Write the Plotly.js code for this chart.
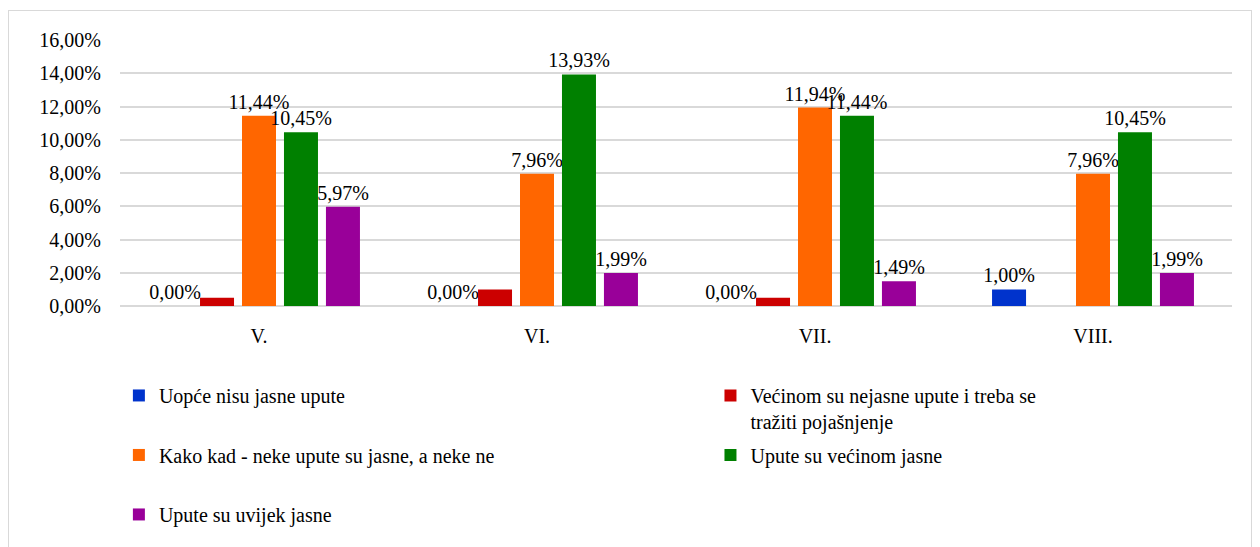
<!DOCTYPE html>
<html>
<head>
<meta charset="utf-8">
<script src="https://cdn.plot.ly/plotly-3.0.1.min.js"></script>
<style>
  body { margin: 0; background: #fff; overflow: hidden; }
  #chart { margin: 10px 0 0 8px; width: 1242px; height: 545px; border: 1.5px solid #d9d9d9; }
</style>
</head>
<body>
<div id="chart"></div>
<script>
// grades
const categories = ["V.", "VI.", "VII.", "VIII."];

const series_names = [
  "Uopće nisu jasne upute",
  "Većinom su nejasne upute i treba se<br>tražiti pojašnjenje",
  "Kako kad - neke upute su jasne, a neke ne",
  "Upute su većinom jasne",
  "Upute su uvijek jasne"
];

// percent values per series
const uopce_nisu = [0.00, 0.00, 0.00, 1.00];
const vecinom_nejasne = [0.50, 1.00, 0.50, 0.00];
const kako_kad = [11.44, 7.96, 11.94, 7.96];
const vecinom_jasne = [10.45, 13.93, 11.44, 10.45];
const uvijek_jasne = [5.97, 1.99, 1.49, 1.99];

const y_ticks = [0, 2, 4, 6, 8, 10, 12, 14, 16];
const y_tick_labels = ["0,00%", "2,00%", "4,00%", "6,00%", "8,00%", "10,00%", "12,00%", "14,00%", "16,00%"];

const series_values = [uopce_nisu, vecinom_nejasne, kako_kad, vecinom_jasne, uvijek_jasne];
const series_colors = ["#0033cc", "#cc0000", "#ff6600", "#008000", "#990099"];
const series_labels = [true, false, true, true, true];
// legend column for each series (Excel lays them out in two columns)
const series_legend = ["legend", "legend2", "legend", "legend2", "legend"];

const font_family = "Liberation Serif";

let data = [];
for (let i = 0; i < series_values.length; i++) {
  // pad one-line names so every legend row is two lines tall
  let name = series_names[i];
  if (name.indexOf("<br>") < 0) name += "<br> ";
  data.push({
    type: "bar",
    name: name,
    x: categories,
    y: series_values[i],
    marker: { color: series_colors[i] },
    texttemplate: series_labels[i] ? "%{y:.2f}%" : "",
    textposition: "outside",
    constraintext: "none",
    cliponaxis: false,
    textfont: { family: font_family, size: 20, color: "#000" },
    legend: series_legend[i],
    legendgroup: "g" + i,
    hoverinfo: "none"
  });
}

const legend_common = {
  orientation: "v",
  xanchor: "left",
  y: -0.263,
  yanchor: "top",
  valign: "top",
  traceorder: "grouped",
  tracegroupgap: 4.5,
  bgcolor: "rgba(0,0,0,0)",
  font: { family: font_family, size: 20, color: "#000" }
};

let layout = {
  width: 1242,
  height: 545,
  margin: { l: 111, r: 19, t: 29, b: 250, autoexpand: false },
  paper_bgcolor: "#fff",
  plot_bgcolor: "#fff",
  separators: ",.",
  font: { family: font_family, size: 20, color: "#000" },
  barmode: "group",
  bargap: 0.245,
  bargroupgap: 0.19,
  showlegend: true,
  legend: Object.assign({ x: -0.001 }, legend_common),
  legend2: Object.assign({ x: 0.531 }, legend_common),
  xaxis: {
    showgrid: false,
    showline: false,
    ticks: "",
    ticklabelstandoff: 16,
    tickfont: { family: font_family, size: 20, color: "#000" }
  },
  yaxis: {
    range: [0, 16],
    tickvals: y_ticks,
    ticktext: y_tick_labels,
    showgrid: true,
    gridcolor: "#d9d9d9",
    gridwidth: 2,
    zeroline: true,
    zerolinecolor: "#d9d9d9",
    zerolinewidth: 2,
    ticks: "",
    ticklabelstandoff: 18,
    tickfont: { family: font_family, size: 20, color: "#000" }
  }
};

Plotly.newPlot("chart", data, layout, { staticPlot: true });
</script>
</body>
</html>
